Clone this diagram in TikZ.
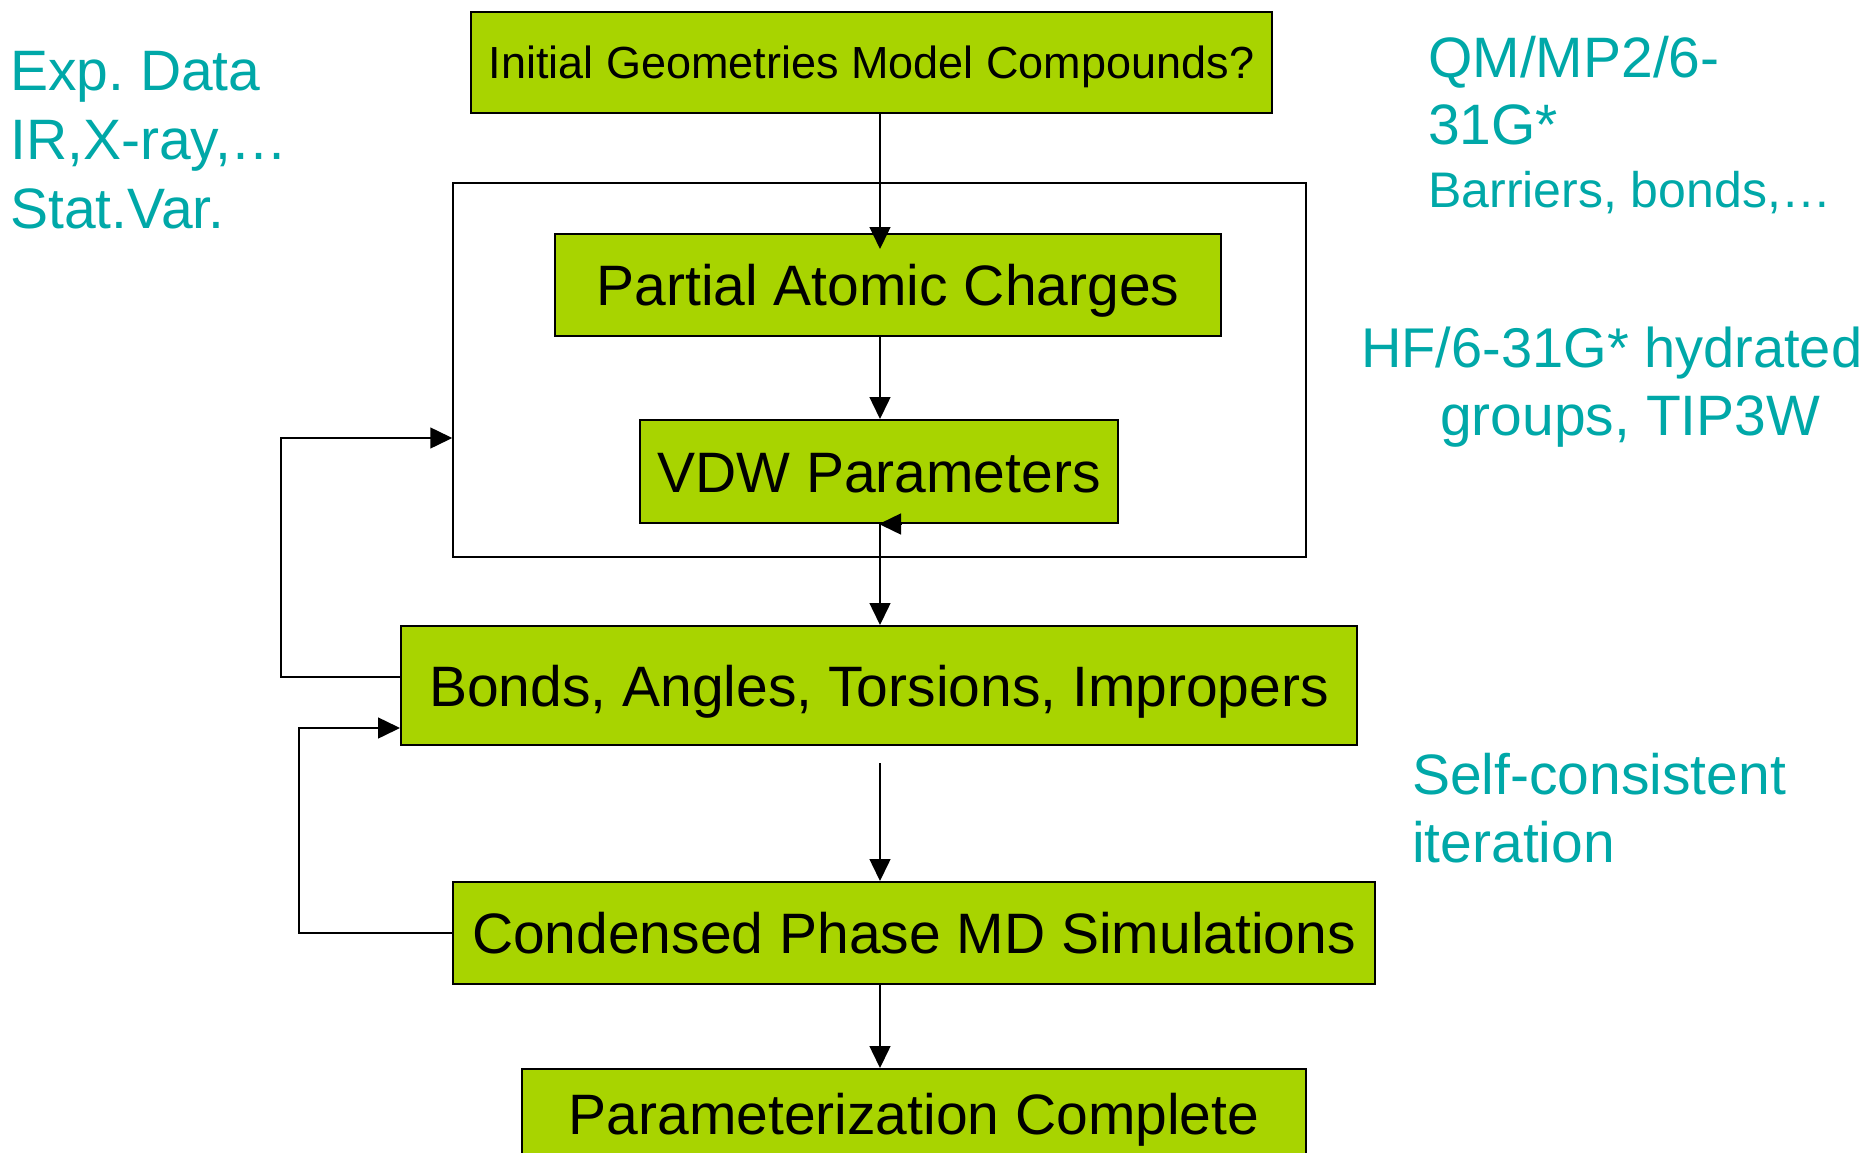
\documentclass[tikz,border=0pt]{standalone}
\usepackage{fontspec}
\setmainfont{Liberation Sans}
\usetikzlibrary{arrows.meta}
\frenchspacing

\definecolor{boxgreen}{RGB}{168,212,0}
\definecolor{noteteal}{RGB}{0,168,168}

\tikzset{
  box/.style={draw=black, line width=2pt, fill=boxgreen, inner sep=0pt,
    text height=41pt, text depth=0pt, font=\fontsize{57}{68}\selectfont},
  note/.style={anchor=base west, inner sep=0pt, text=noteteal,
    font=\fontsize{57}{68}\selectfont},
  loopframe/.style={draw=black, line width=1.5pt, inner sep=0pt},
  arr/.style={line width=1.5pt, -{Triangle[length=22pt,width=21pt]}}
}

\begin{document}
\begin{tikzpicture}[x=1pt,y=-1pt]
    \useasboundingbox (0,0) rectangle (1873,1153);
    \clip (0,0) rectangle (1873,1153);

    % frame round charges and VDW
    \node[loopframe, minimum width=853pt, minimum height=374pt] (loop) at (879.5,370) {};

    % flow boxes
    \node[box, minimum width=801pt, minimum height=101pt, text height=32pt,
      font=\fontsize{45}{54}\selectfont] (init) at (871.5,62.5) {Initial Geometries Model Compounds?};
    \node[box, minimum width=666pt, minimum height=102pt] (charges) at (888,285) {Partial Atomic Charges};
    \node[box, minimum width=478pt, minimum height=103pt] (vdw) at (879,471.5) {VDW Parameters};
    \node[box, minimum width=956pt, minimum height=119pt] (bonds) at (879,685.5) {Bonds, Angles, Torsions, Impropers};
    \node[box, minimum width=922pt, minimum height=102pt] (cond) at (914,933) {Condensed Phase MD Simulations};
    \node[box, minimum width=784pt, minimum height=90pt] (param) at (914,1114) {Parameterization Complete};

    % main line
    \coordinate (spine) at (880,0);
    \draw[arr, shorten >=-16pt] (init.south -| spine) -- (charges.north -| spine);
    \draw[arr] (charges.south -| spine) -- (vdw.north -| spine);
    \draw[arr] ([xshift=22pt]vdw.south) -- (vdw.south);
    \draw[arr] (vdw.south -| spine) -- (bonds.north -| spine);
    \draw[arr, shorten <=17pt] (bonds.south -| spine) -- (cond.north -| spine);
    \draw[arr] (cond.south -| spine) -- (param.north -| spine);

    % feedback loops
    \draw[arr] ([yshift=8.5pt]bonds.west) -- ++(-119,0) |- ([yshift=-68pt]loop.west);
    \draw[arr] (cond.west) -- ++(-153,0) |- ([yshift=-42.5pt]bonds.west);

    % side notes
    \node[note] (exp1) at (10,91) {Exp. Data};
    \node[note] (exp2) at (10,160) {IR,X-ray,…};
    \node[note] (exp3) at (10,228) {Stat.Var.};
    \node[note] (qm1) at (1428,78) {QM/MP2/6-};
    \node[note] (qm2) at (1428,144) {31G*};
    \node[note, font=\fontsize{50}{60}\selectfont] (qm3) at (1428,207) {Barriers, bonds,…};
    \node[note, font=\fontsize{56}{67}\selectfont] (hf1) at (1361,367) {HF/6-31G* hydrated};
    \node[note] (hf2) at (1440,435) {groups, TIP3W};
    \node[note] (sc1) at (1412,794) {Self-consistent};
    \node[note] (sc2) at (1412,862) {iteration};

\end{tikzpicture}
\end{document}
